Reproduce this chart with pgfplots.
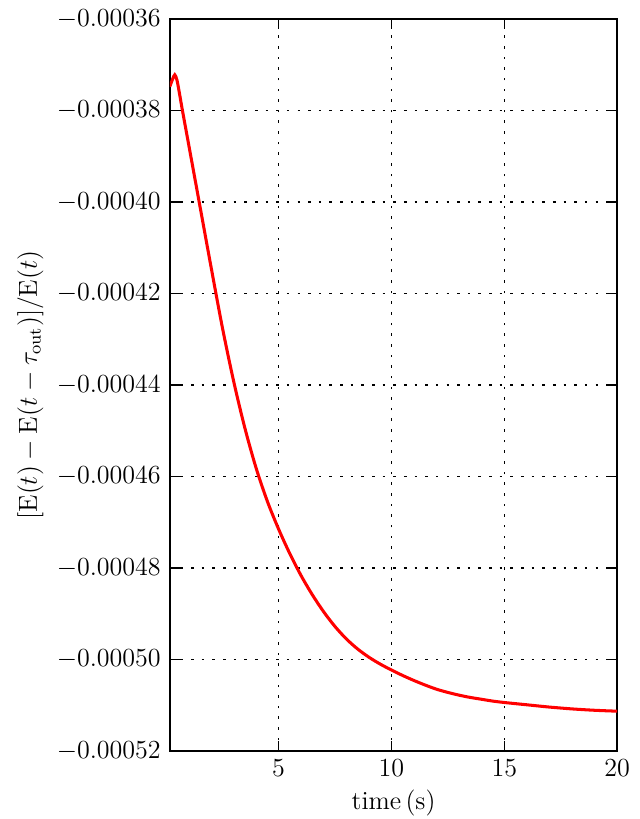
\documentclass[12pt,border=0pt]{standalone}
\usepackage{pgfplots}
\pgfplotsset{compat=1.18}

\begin{document}
\begin{tikzpicture}
\begin{axis}[
    scale only axis,
    width=206pt, height=337pt,
    xmin=0.18, xmax=20,
    ymin=-0.00052, ymax=-0.00036,
    xtick={5,10,15,20},
    ytick={-0.00052,-0.00050,-0.00048,-0.00046,-0.00044,-0.00042,-0.00040,-0.00038,-0.00036},
    scaled y ticks=false,
    yticklabel style={/pgf/number format/.cd, fixed, fixed zerofill, precision=5},
    tick align=inside,
    major tick length=4.6pt,
    tick style={black, line width=0.5pt},
    axis line style={line width=0.8pt},
    grid=major,
    major grid style={black, line width=0.5pt, dash pattern=on 1.2pt off 3.7pt},
    xlabel={time\,(s)},
    ylabel={$[\mathrm{E}(t)-\mathrm{E}(t-\tau_{\mathrm{out}})]/\mathrm{E}(t)$},
    xlabel style={yshift=2pt},
    ylabel style={yshift=-2pt},
]
% values, in units of 1e-6
\addplot[red, line width=1.4pt, smooth] table[y expr=\thisrow{y}*1e-6] {
x     y
0.18  -374.8
0.30  -373.2
0.40  -372.2
0.50  -373.4
0.62  -376.6
0.74  -380.0
1.00  -387.0
1.50  -400.5
2.00  -414.0
2.50  -427.2
3.00  -439.0
3.50  -449.3
4.00  -458.1
4.50  -465.4
5.00  -471.5
5.50  -476.9
6.00  -481.7
6.50  -485.9
7.00  -489.6
7.50  -492.8
8.00  -495.5
8.50  -497.7
9.00  -499.5
9.50  -501.0
10.0  -502.3
10.5  -503.5
11.0  -504.6
11.5  -505.6
12.0  -506.5
12.5  -507.2
13.0  -507.8
13.5  -508.3
14.0  -508.7
14.5  -509.1
15.0  -509.4
16.0  -509.9
17.0  -510.4
18.0  -510.8
19.0  -511.1
20.0  -511.3
};
\coordinate (bl) at (rel axis cs:-0.3795,-0.0929);
\coordinate (tr) at (rel axis cs:1.049,1.026);
\node[anchor=north, inner sep=0pt] at (rel axis cs:-0.384,-0.0205) {$0$};
\end{axis}
\pgfresetboundingbox
\path[use as bounding box] (bl) rectangle (tr);
\end{tikzpicture}
\end{document}
